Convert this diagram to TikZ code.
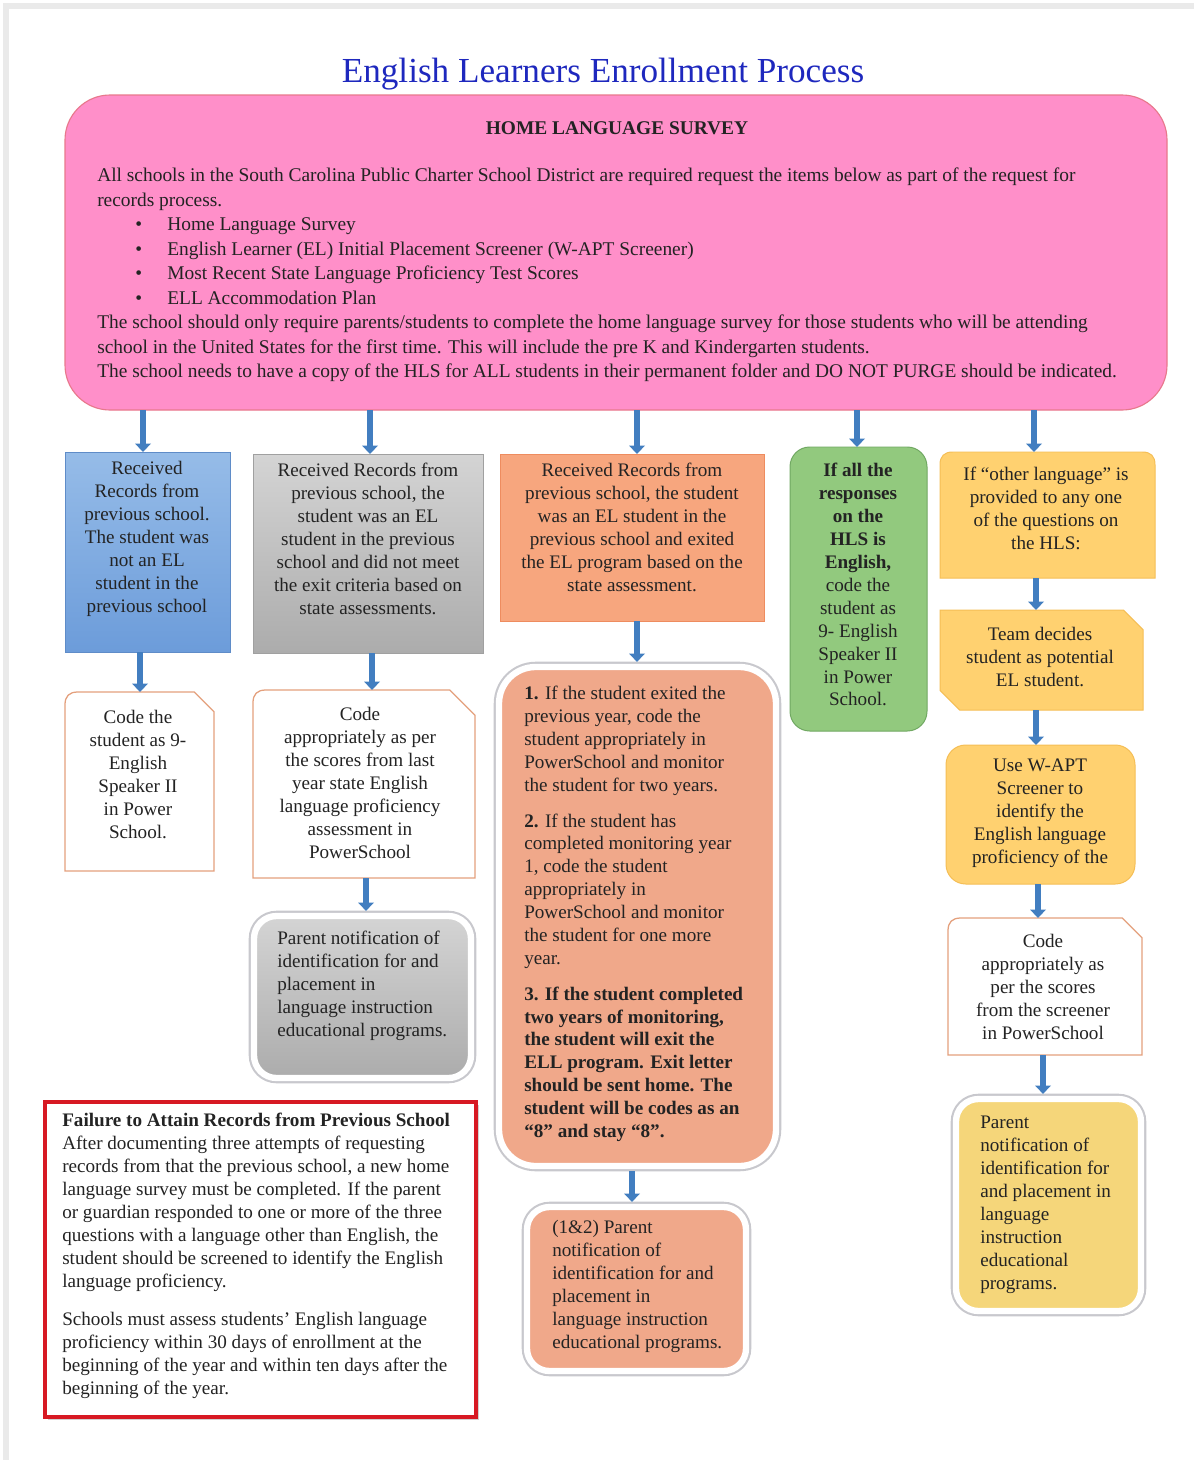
\documentclass[tikz,border=0pt]{standalone}
\usepackage{fontspec}
\setmainfont{Liberation Serif}
\usetikzlibrary{arrows.meta,fit,calc}
\definecolor{pinkfill}{RGB}{255,143,201}
\definecolor{pinkedge}{RGB}{232,120,140}
\definecolor{titleblue}{RGB}{30,40,190}
\definecolor{bluetop}{RGB}{150,188,232}
\definecolor{bluebot}{RGB}{108,156,218}
\definecolor{blueedge}{RGB}{95,140,200}
\definecolor{graytop}{RGB}{212,212,212}
\definecolor{graybot}{RGB}{172,172,172}
\definecolor{grayedge}{RGB}{160,160,160}
\definecolor{salfill}{RGB}{247,166,126}
\definecolor{saledge}{RGB}{238,140,95}
\definecolor{bigfill}{RGB}{240,168,138}
\definecolor{greenfill}{RGB}{146,201,126}
\definecolor{greenedge}{RGB}{112,168,98}
\definecolor{yelfill}{RGB}{255,209,112}
\definecolor{yeledge}{RGB}{245,190,85}
\definecolor{ypfill}{RGB}{245,214,122}
\definecolor{snipedge}{RGB}{228,160,125}
\definecolor{redc}{RGB}{215,25,35}
\definecolor{arrowblue}{RGB}{66,126,192}
\definecolor{textc}{RGB}{35,35,35}
\definecolor{framegray}{RGB}{234,234,234}
\definecolor{halogray}{RGB}{200,200,205}
\newcommand{\snipbox}[2]{%
  \draw[snipstyle] (#1.south west) -- ([yshift=-9pt]#1.north west)
    .. controls ([yshift=-3pt]#1.north west) and ([xshift=3pt]#1.north west) .. ([xshift=9pt]#1.north west)
    -- ([xshift=-#2]#1.north east) -- ([yshift=-#2]#1.north east) -- (#1.south east) -- cycle;}
\begin{document}
\begin{tikzpicture}[x=0.025cm,y=-0.025cm,
  area/.style={inner sep=0pt,outer sep=0pt},
  txt/.style={inner sep=0pt,align=center,anchor=north,text=textc,font=\fontsize{13.6}{16.3}\selectfont},
  txtl/.style={txt,align=left,anchor=north west},
  snipstyle/.style={draw=snipedge,fill=white,line width=0.9pt},
  halo/.style={preaction={draw=halogray,line width=7.5pt},draw=white,line width=4.5pt,rounded corners=16pt},
  blarrow/.style={draw=arrowblue,line width=4.2pt,-{Triangle[width=11pt,length=6pt]}},
  tohalo/.style={shorten >=3.6pt}]
\useasboundingbox (0,0) rectangle (1194,1460);
\fill[white] (0,0) rectangle (1194,1460);
\fill[framegray] (3,3) rectangle (1194,9);
\fill[framegray] (3,3) rectangle (9,1460);

% title
\node[font=\fontsize{25}{30}\selectfont,text=titleblue,inner sep=0pt] (title) at (603,74) {English Learners Enrollment Process};

% home language survey
\node[fit={(65,95) (1167,410)},area,draw=pinkedge,fill=pinkfill,rounded corners=32pt,line width=0.8pt] (hls) {};
\node[font=\bfseries\fontsize{13.8}{16}\selectfont,text=textc,inner sep=0pt] (hlst) at (617,128) {HOME LANGUAGE SURVEY};
\node[txtl,font=\fontsize{13.8}{17.4}\selectfont] (hlsb) at (97,168) {All schools in the South Carolina Public Charter School District are required request the items below as part of the request for\\
records process.\\
\makebox[49.8pt][l]{\hspace{27pt}\textbullet}Home Language Survey\\
\makebox[49.8pt][l]{\hspace{27pt}\textbullet}English Learner (EL) Initial Placement Screener (W-APT Screener)\\
\makebox[49.8pt][l]{\hspace{27pt}\textbullet}Most Recent State Language Proficiency Test Scores\\
\makebox[49.8pt][l]{\hspace{27pt}\textbullet}ELL Accommodation Plan\\
The school should only require parents/students to complete the home language survey for those students who will be attending\\
school in the United States for the first time. This will include the pre K and Kindergarten students.\\
The school needs to have a copy of the HLS for ALL students in their permanent folder and DO NOT PURGE should be indicated.};

% column 1
\node[fit={(65,452) (230,652)},area,draw=blueedge,top color=bluetop,bottom color=bluebot,line width=0.7pt] (b1) {};
\node[txt] (b1t) at (147,461) {Received\\Records from\\previous school.\\The student was\\not an EL\\student in the\\previous school};
\node[fit={(65,692) (214,871)},area] (c1) {};
\snipbox{c1}{14pt}
\node[txt] (c1t) at (138,710) {Code the\\student as 9-\\English\\Speaker II\\in Power\\School.};

% column 2
\node[fit={(253,454) (483,653)},area,draw=grayedge,top color=graytop,bottom color=graybot,line width=0.7pt] (b2) {};
\node[txt] (b2t) at (368,463) {Received Records from\\previous school, the\\student was an EL\\student in the previous\\school and did not meet\\the exit criteria based on\\state assessments.};
\node[fit={(253,690) (475,878)},area] (c2) {};
\snipbox{c2}{18pt}
\node[txt] (c2t) at (360,707) {Code\\appropriately as per\\the scores from last\\year state English\\language proficiency\\assessment in\\PowerSchool};
\node[fit={(254,916) (471,1078)},area,halo,top color=graytop,bottom color=graybot] (gp) {};
\node[txtl] (gpt) at (277,931) {Parent notification of\\identification for and\\placement in\\language instruction\\educational programs.};

% column 3
\node[fit={(500,454) (764,621)},area,draw=saledge,fill=salfill,line width=0.7pt] (b3) {};
\node[txt] (b3t) at (632,463) {Received Records from\\previous school, the student\\was an EL student in the\\previous school and exited\\the EL program based on the\\state assessment.};
\node[fit={(499,667) (776,1166)},area,halo,rounded corners=26pt,fill=bigfill] (big) {};
\node[txtl] (bigt) at (524,686) {\textbf{1.} If the student exited the\\previous year, code the\\student appropriately in\\PowerSchool and monitor\\the student for two years.\\[9pt]
\textbf{2.} If the student has\\completed monitoring year\\1, code the student\\appropriately in\\PowerSchool and monitor\\the student for one more\\year.\\[9pt]
\textbf{3. If the student completed}\\\textbf{two years of monitoring,}\\\textbf{the student will exit the}\\\textbf{ELL program. Exit letter}\\\textbf{should be sent home. The}\\\textbf{student will be codes as an}\\\textbf{“8” and stay “8”.}};
\node[fit={(527,1207) (746,1371)},area,halo,fill=bigfill] (small) {};
\node[txtl] (smallt) at (552,1220) {(1\&2) Parent\\notification of\\identification for and\\placement in\\language instruction\\educational programs.};

% column 4
\node[fit={(790,447) (927,731)},area,draw=greenedge,fill=greenfill,rounded corners=14pt,line width=0.7pt] (g4) {};
\node[txt] (g4t) at (858,463) {\textbf{If all the}\\\textbf{responses}\\\textbf{on the}\\\textbf{HLS is}\\\textbf{English,}\\code the\\student as\\9- English\\Speaker II\\in Power\\School.};

% column 5
\node[fit={(940,452) (1155,578)},area] (y1) {};
\draw[draw=yeledge,fill=yelfill,line width=0.7pt] (y1.south west) -- ([yshift=-9pt]y1.north west)
  .. controls ([yshift=-3pt]y1.north west) and ([xshift=3pt]y1.north west) .. ([xshift=9pt]y1.north west)
  -- ([xshift=-9pt]y1.north east)
  .. controls ([xshift=-3pt]y1.north east) and ([yshift=-3pt]y1.north east) .. ([yshift=-9pt]y1.north east)
  -- (y1.south east) -- cycle;
\node[txt] (y1t) at (1046,467) {If “other language” is\\provided to any one\\of the questions on\\the HLS:};
\node[fit={(940,610) (1143,710)},area] (team) {};
\draw[draw=yeledge,fill=yelfill,line width=0.7pt] (team.north west) -- ([xshift=-14pt]team.north east) -- ([yshift=-14pt]team.north east)
  -- (team.south east) -- ([xshift=14pt]team.south west) -- ([yshift=14pt]team.south west) -- cycle;
\node[txt] (teamt) at (1040,627) {Team decides\\student as potential\\EL student.};
\node[fit={(946,745) (1135,884)},area,draw=yeledge,fill=yelfill,rounded corners=14pt,line width=0.7pt] (wapt) {};
\node[txt] (waptt) at (1040,759) {Use W-APT\\Screener to\\identify the\\English language\\proficiency of the};
\node[fit={(948,918) (1142,1055)},area] (c5) {};
\snipbox{c5}{14pt}
\node[txt] (c5t) at (1043,934) {Code\\appropriately as\\per the scores\\from the screener\\in PowerSchool};
\node[fit={(956,1099) (1141,1311)},area,halo,fill=ypfill] (yp) {};
\node[txtl] (ypt) at (980,1116) {Parent\\notification of\\identification for\\and placement in\\language\\instruction\\educational\\programs.};

% failure box
\node[fit={(45,1102) (476,1417)},area,preaction={fill=black!18,transform canvas={xshift=2pt,yshift=-2pt}},draw=redc,fill=white,line width=2.2pt] (fail) {};
\node[txtl] (failt) at (62,1113) {\textbf{Failure to Attain Records from Previous School}\\After documenting three attempts of requesting\\records from that the previous school, a new home\\language survey must be completed. If the parent\\or guardian responded to one or more of the three\\questions with a language other than English, the\\student should be screened to identify the English\\language proficiency.\\[11pt]
Schools must assess students’ English language\\proficiency within 30 days of enrollment at the\\beginning of the year and within ten days after the\\beginning of the year.};

% arrow x positions
\coordinate (xa) at (143,0);
\coordinate (xb) at (140,0);
\coordinate (xc) at (370,0);
\coordinate (xd) at (372,0);
\coordinate (xe) at (366,0);
\coordinate (xf) at (637,0);
\coordinate (xg) at (632,0);
\coordinate (xh) at (857,0);
\coordinate (xi) at (1034,0);
\coordinate (xj) at (1036,0);
\coordinate (xk) at (1038,0);
\coordinate (xl) at (1043,0);

\draw[blarrow] (hls.south -| xa) -- (b1.north -| xa);
\draw[blarrow] (b1.south -| xb) -- (c1.north -| xb);
\draw[blarrow] (hls.south -| xc) -- (b2.north -| xc);
\draw[blarrow] (b2.south -| xd) -- (c2.north -| xd);
\draw[blarrow,tohalo] (c2.south -| xe) -- (gp.north -| xe);
\draw[blarrow] (hls.south -| xf) -- (b3.north -| xf);
\draw[blarrow,tohalo] (b3.south -| xf) -- (big.north -| xf);
\draw[blarrow,tohalo,shorten <=3.6pt] (big.south -| xg) -- (small.north -| xg);
\draw[blarrow] (hls.south -| xh) -- (g4.north -| xh);
\draw[blarrow] (hls.south -| xi) -- (y1.north -| xi);
\draw[blarrow] (y1.south -| xj) -- (team.north -| xj);
\draw[blarrow] (team.south -| xj) -- (wapt.north -| xj);
\draw[blarrow] (wapt.south -| xk) -- (c5.north -| xk);
\draw[blarrow,tohalo] (c5.south -| xl) -- (yp.north -| xl);
\end{tikzpicture}
\end{document}
